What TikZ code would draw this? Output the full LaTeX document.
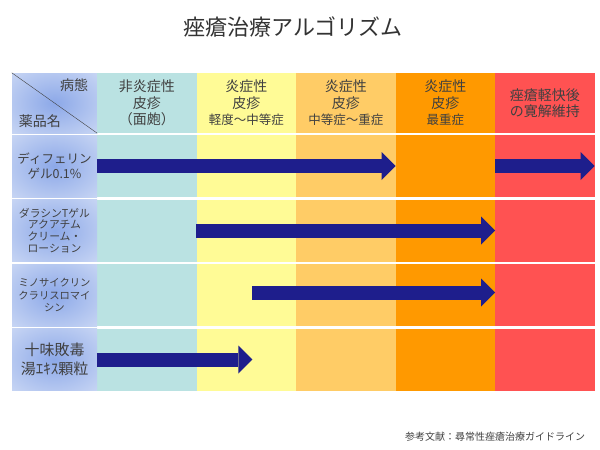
\documentclass[tikz,border=0pt]{standalone}
\usepackage{fontspec}
\setmainfont{Noto Sans CJK JP}
\usetikzlibrary{positioning}
\usetikzlibrary{arrows.meta}

\definecolor{nonInfl}{RGB}{186,226,226}
\definecolor{mild}{RGB}{255,251,150}
\definecolor{moderate}{RGB}{255,204,102}
\definecolor{severe}{RGB}{255,153,0}
\definecolor{remission}{RGB}{255,82,82}
\definecolor{drugblue}{RGB}{140,168,232}
\definecolor{drugpale}{RGB}{216,226,247}
\definecolor{arrowblue}{RGB}{30,30,140}
\definecolor{txtgray}{RGB}{64,64,64}
\pgfdeclareradialshading{druglight}{\pgfpointorigin}{color(0bp)=(drugblue); color(46bp)=(drugpale); color(60bp)=(drugpale)}

\begin{document}
\begin{tikzpicture}[x=1pt, y=-1pt,
                          headcell/.style={minimum width=99.5pt, minimum height=60pt, inner sep=0pt, text=txtgray, align=center, font=\fontsize{14}{16.5}\selectfont},
                          bodycell/.style={minimum width=99.5pt, minimum height=62pt, inner sep=0pt},
                          drugcell/.style={minimum width=85pt, minimum height=62pt, inner sep=0pt, shade, shading=druglight, text=txtgray, align=center},
                          medarrow/.style={draw=arrowblue, line width=14pt, -{Triangle[length=14pt, width=28pt, line width=0pt]}},
                      ]
                      \useasboundingbox (0,0) rectangle (600,450);
                      %               %Title
                      \node[font=\fontsize{22}{26}\selectfont, text=black!80] (title) at (293,27) {痤瘡治療アルゴリズム};

                      %               %Body cells
                      \foreach \col [count=\c] in {nonInfl,mild,moderate,severe,remission}{
                        \pgfmathsetmacro{\cx}{97+99.5*(\c-0.5)}
                        \foreach \r in {1,...,4}{
                          \pgfmathsetmacro{\cy}{166+64.5*(\r-1)}
                          \node[bodycell, fill=\col] (c\c-\r) at (\cx,\cy) {};
                        }
                      }

                      %               %Header
                      \node[drugcell, minimum height=60pt] (hd) at (54.5,103) {};
                      \node[headcell, fill=nonInfl]    (h1) at (146.75,103) {非炎症性\\皮疹\\（面皰）};
                      \node[headcell, fill=mild]       (h2) at (246.25,103) {炎症性\\皮疹\\{\fontsize{12.5}{15}\selectfont 軽度～中等症}};
                      \node[headcell, fill=moderate]   (h3) at (345.75,103) {炎症性\\皮疹\\{\fontsize{12.5}{15}\selectfont 中等症～重症}};
                      \node[headcell, fill=severe]     (h4) at (445.25,103) {炎症性\\皮疹\\{\fontsize{12.5}{15}\selectfont 最重症}};
                      \node[headcell, fill=remission]  (h5) at (544.75,103) {痤瘡軽快後\\の寛解維持};
                      \draw[txtgray, thin] (hd.north west) -- (hd.south east);
                      \node[text=txtgray, font=\fontsize{14}{16}\selectfont] (byotai) at (74,85) {病態};
                      \node[text=txtgray, font=\fontsize{14}{16}\selectfont] (yakuhin) at (40,121) {薬品名};

                      %               %Drugs
                      \node[drugcell, font=\fontsize{12.5}{15}\selectfont]  (d1) at (54.5,166)   {ディフェリン\\ゲル0.1\%};
                      \node[drugcell, font=\fontsize{10.8}{11.8}\selectfont] (d2) at (54.5,230.5) {ダラシンTゲル\\アクアチム\\クリーム・\\ローション};
                      \node[drugcell, font=\fontsize{10.3}{12.5}\selectfont] (d3) at (54.5,295)   {ミノサイクリン\\クラリスロマイ\\シン};
                      \node[drugcell, font=\fontsize{15}{19}\selectfont]    (d4) at (54.5,359.5) {十味敗毒\\湯ｴｷｽ顆粒};

                      %               %Arrows
                      \draw[medarrow] (c1-1.west) -- (c3-1.east);
                      \draw[medarrow] (c5-1.west) -- (c5-1.east);
                      \draw[medarrow] (c2-2.west) -- (c4-2.east);
                      \draw[medarrow] ([xshift=56pt, yshift=2.5pt]c2-3.west) -- ([yshift=2.5pt]c4-3.east);
                      \draw[medarrow] (c1-4.west) -- ([xshift=56pt]c2-4.west);

                      %               %Reference
                      \node[text=txtgray, font=\fontsize{10}{12}\selectfont] (ref) at (495,437) {参考文献：尋常性痤瘡治療ガイドライン};
                  \end{tikzpicture}
\end{document}
